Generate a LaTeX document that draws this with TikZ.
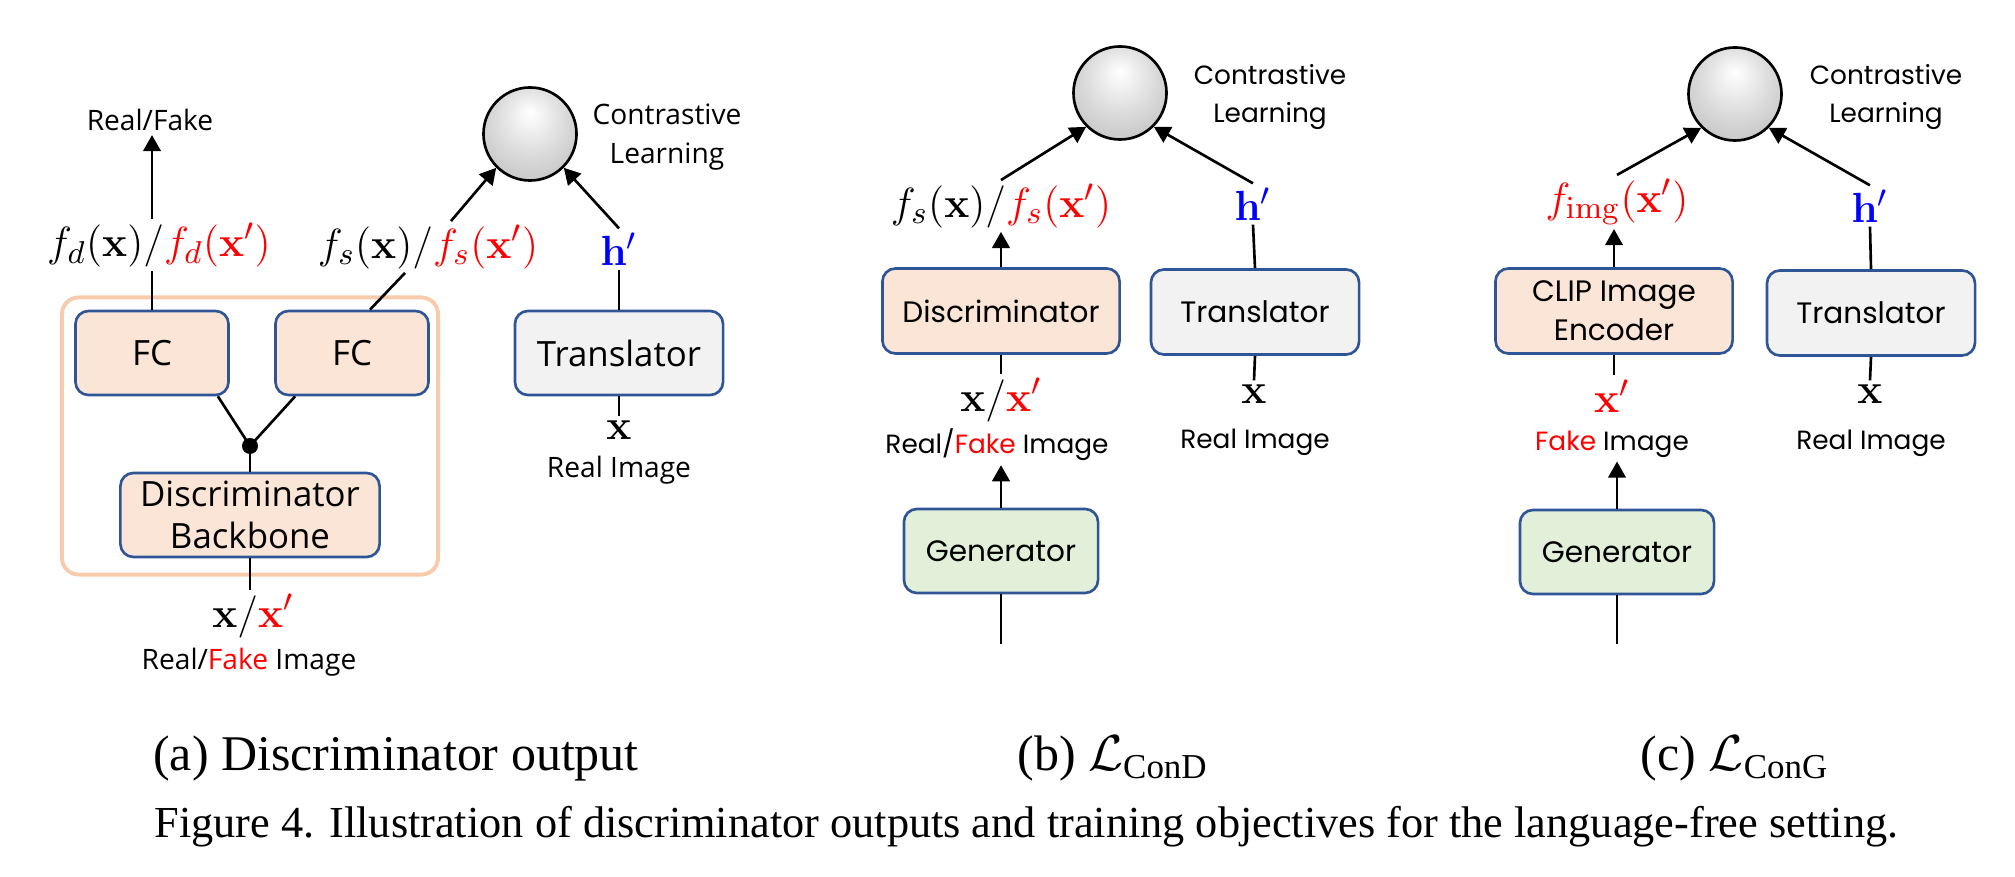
\documentclass[tikz,border=0pt]{standalone}
\usepackage[no-math]{fontspec}
\usepackage{amsmath}
\setmainfont{Liberation Serif}
\newfontfamily\fonta{Open Sans}
\newfontfamily\fontb{Poppins}
\usetikzlibrary{arrows.meta, calc, positioning}
\definecolor{boxorange}{HTML}{FBE5D6}
\definecolor{boxgray}{HTML}{F2F2F2}
\definecolor{boxgreen}{HTML}{E2F0D9}
\definecolor{boxblue}{HTML}{2F5597}
\definecolor{outerorange}{HTML}{F8CBAD}
\definecolor{fakered}{HTML}{FF0000}
\definecolor{transblue}{HTML}{0000FF}
\pgfdeclareradialshading{ballgray}{\pgfpoint{0bp}{12bp}}{color(0bp)=(white); color(20bp)=(gray!30); color(45bp)=(gray!62); color(50bp)=(gray!62)}

\begin{document}
\begin{tikzpicture}[
    x=0.01cm, y=-0.01cm,
    every node/.style={inner sep=1pt},
    ln/.style={line width=0.75pt},
    arr/.style={line width=0.75pt, -{Triangle[length=4.6pt, width=5pt]}},
    blk/.style={draw=boxblue, line width=0.75pt, rounded corners=3.7pt, align=center, inner sep=0pt},
    orangebox/.style={blk, fill=boxorange},
    graybox/.style={blk, fill=boxgray},
    greenbox/.style={blk, fill=boxgreen},
    ball/.style={circle, draw, line width=0.75pt, minimum size=0.93cm, shading=ballgray},
    fa/.style={font=\fonta\fontsize{8}{11}\selectfont},
    fabox/.style={font=\fonta\fontsize{9.9}{12}\selectfont},
    fb/.style={font=\fontb\fontsize{7.5}{11}\selectfont},
    fbbox/.style={font=\fontb\fontsize{8.4}{11.2}\selectfont},
    mth/.style={font=\fontsize{12.2}{14}\selectfont},
    captext/.style={font=\fontsize{14.2}{16}\selectfont, inner sep=0pt},
    figtext/.style={font=\fontsize{12.6}{15}\selectfont, inner sep=0pt},
]

\useasboundingbox (0,0) rectangle (2015,877);

% === (a) Discriminator output ===
\node[fa] (rfa) at (150,120) {Real/Fake};
\node[mth] (fda) at (159,245) {$f_d(\mathbf{x})/\textcolor{fakered}{f_d(\mathbf{x}')}$};
\node[draw=outerorange, line width=1.1pt, rounded corners=4.8pt, minimum width=3.76cm, minimum height=2.77cm] (bnd) at (250,436) {};
\node[orangebox, fabox, minimum width=1.53cm, minimum height=0.84cm] (fc1) at (152,353) {FC};
\node[orangebox, fabox, minimum width=1.53cm, minimum height=0.84cm] (fc2) at (352,353) {FC};
\node[circle, fill, inner sep=0pt, minimum size=0.16cm] (dot) at (250,446) {};
\node[orangebox, fabox, minimum width=2.59cm, minimum height=0.84cm] (bb) at (250,515) {Discriminator\\Backbone};
\node[mth] (xa) at (253,616) {$\mathbf{x}/\textcolor{fakered}{\mathbf{x}'}$};
\node[fa] (rfia) at (249,662) {Real/\textcolor{fakered}{Fake} Image};
\node[mth] (fsa) at (428,247) {$f_s(\mathbf{x})/\textcolor{fakered}{f_s(\mathbf{x}')}$};
\node[ball] (cla) at (530,134) {};
\node[fa, align=center] (cta) at (667,137) {Contrastive\\Learning};
\node[mth] (ha) at (619,249) {$\textcolor{transblue}{\mathbf{h}'}$};
\node[graybox, fabox, minimum width=2.08cm, minimum height=0.84cm] (tra) at (619,353) {Translator};
\node[mth] (xra) at (619,430) {$\mathbf{x}$};
\node[fa] (ria) at (619,470) {Real Image};

\draw[ln] (fc1.north) -- (fc1.north |- fda.south);
\draw[arr] (fc1.north |- fda.north) -- (fc1.north |- rfa.south);
\draw[ln] ($(fc1.south east)+(-12,0)$) -- (dot.center);
\draw[ln] ($(fc2.south west)+(21,0)$) -- (dot.center);
\draw[ln] (dot.center) -- (bb.north);
\draw[ln] (bb.south) -- (bb.south |- xa.north);
\draw[ln] ($(fc2.north)+(18,0)$) -- ($(fsa.south)+(-23,0)$);
\draw[arr] ($(fsa.north)+(23,0)$) -- (cla.-135);
\draw[arr] (ha.north) -- (cla.-45);
\draw[ln] (ha.south) -- (tra.north);
\draw[ln] (tra.south) -- (xra.north);

% === (b) L_ConD ===
\node[ball] (clb) at (1120,93) {};
\node[fb, align=center] (ctb) at (1270,97) {Contrastive\\Learning};
\node[mth] (fsb) at (1001,206) {$f_s(\mathbf{x})/\textcolor{fakered}{f_s(\mathbf{x}')}$};
\node[orangebox, fbbox, minimum width=2.37cm, minimum height=0.85cm] (dsb) at (1001,311) {Discriminator};
\node[mth] (xb) at (1001,400) {$\mathbf{x}/\textcolor{fakered}{\mathbf{x}'}$};
\node[fb] (rfib) at (997,445) {Real/\textcolor{fakered}{Fake} Image};
\node[greenbox, fbbox, minimum width=1.94cm, minimum height=0.84cm] (genb) at (1001,551) {Generator};
\coordinate (zb) at (1001,644);
\node[mth] (hb) at (1253,204) {$\textcolor{transblue}{\mathbf{h}'}$};
\node[graybox, fbbox, minimum width=2.08cm, minimum height=0.85cm] (trb) at (1255,312) {Translator};
\node[mth] (xrb) at (1254,394) {$\mathbf{x}$};
\node[fb] (rib) at (1255,442) {Real Image};

\draw[arr] (fsb.north) -- (clb.-135);
\draw[arr] (hb.north) -- (clb.-45);
\draw[arr] (dsb.north) -- (fsb.south -| dsb.north);
\draw[ln] (dsb.south) -- (xb.north -| dsb.south);
\draw[arr] (genb.north) -- (rfib.south -| genb.north);
\draw[ln] (genb.south) -- (zb);
\draw[ln] (hb.south) -- (trb.north);
\draw[ln] (trb.south) -- (xrb.north);

% === (c) L_ConG ===
\node[ball] (clc) at (1735,94) {};
\node[fb, align=center] (ctc) at (1886,97) {Contrastive\\Learning};
\node[mth] (fic) at (1617,202) {$\textcolor{fakered}{f_{\mathrm{img}}(\mathbf{x}')}$};
\node[orangebox, fbbox, minimum width=2.37cm, minimum height=0.85cm] (enc) at (1614,311) {CLIP Image\\Encoder};
\node[mth] (xc) at (1612,396) {$\textcolor{fakered}{\mathbf{x}'}$};
\node[fb] (fic2) at (1612,444) {\textcolor{fakered}{Fake} Image};
\node[greenbox, fbbox, minimum width=1.94cm, minimum height=0.84cm] (genc) at (1617,552) {Generator};
\coordinate (zc) at (1617,644);
\node[mth] (hc) at (1870,206) {$\textcolor{transblue}{\mathbf{h}'}$};
\node[graybox, fbbox, minimum width=2.08cm, minimum height=0.85cm] (trc) at (1871,313) {Translator};
\node[mth] (xrc) at (1870,394) {$\mathbf{x}$};
\node[fb] (ric) at (1871,443) {Real Image};

\draw[arr] (fic.north) -- (clc.-135);
\draw[arr] (hc.north) -- (clc.-45);
\draw[arr] (enc.north) -- (fic.south -| enc.north);
\draw[ln] (enc.south) -- (xc.north -| enc.south);
\draw[arr] (genc.north) -- (fic2.south -| genc.north);
\draw[ln] (genc.south) -- (zc);
\draw[ln] (hc.south) -- (trc.north);
\draw[ln] (trc.south) -- (xrc.north);

% === Captions ===
\node[captext, anchor=base] (capa) at (396,771) {(a) Discriminator output};
\node[captext, anchor=base] (capb) at (1113,771) {(b) $\mathcal{L}_{\text{ConD}}$};
\node[captext, anchor=base] (capc) at (1735,771) {(c) $\mathcal{L}_{\text{ConG}}$};
\node[figtext, anchor=base west] (fig) at (154,838) {Figure 4. Illustration of discriminator outputs and training objectives for the language-free setting.};

\end{tikzpicture}
\end{document}
